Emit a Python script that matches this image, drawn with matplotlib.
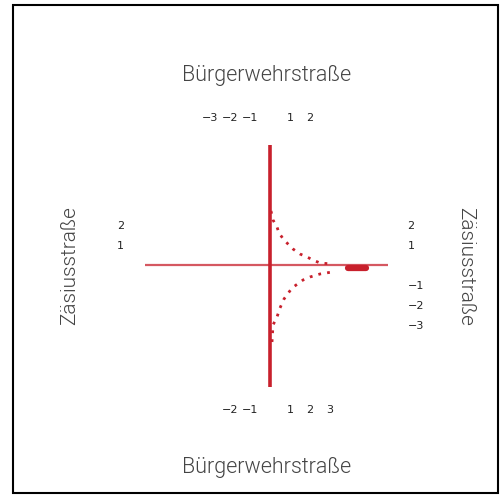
import matplotlib.pyplot as plt
from matplotlib.patches import Rectangle

# data (units: one tick step)
upper_x = [0.05, 0.15, 0.35, 0.45, 0.7, 1.15, 1.5, 1.85, 2.15, 2.5, 3.1]
upper_y = [2.7, 2.25, 1.9, 1.6, 1.25, 0.8, 0.55, 0.4, 0.25, 0.1, 0.05]
lower_x = [0.1, 0.15, 0.35, 0.5, 0.7, 1.1, 1.65, 2.0, 2.5, 3.1]
lower_y = [-3.85, -3.0, -2.6, -2.15, -1.7, -1.15, -0.75, -0.6, -0.45, -0.35]
tail_x = [3.9, 4.8]
tail_y = [-0.15, -0.15]

top_ticks = [-3, -2, -1, 1, 2]
top_labels = ["−3", "−2", "−1", "1", "2"]
bottom_ticks = [-2, -1, 1, 2, 3]
bottom_labels = ["−2", "−1", "1", "2", "3"]
left_ticks = [2, 1]
left_labels = ["2", "1"]
right_ticks = [2, 1, -1, -2, -3]
right_labels = ["2", "1", "−1", "−2", "−3"]

x_title = "Bürgerwehrstraße"
y_title = "Zäsiusstraße"

red = "#c8202c"
text_col = "#444444"
x_font = dict(fontsize=15.5, color=text_col, family="Roboto", fontweight=300)
y_font = dict(fontsize=15, color=text_col, family="Roboto", fontweight=300)

fig = plt.figure(figsize=(5.04, 4.98), dpi=100)
ax = fig.add_axes([145 / 504, 111 / 498, 243 / 504, 242 / 498])
ax.set_xlim(-6.25, 5.9)
ax.set_ylim(-6.1, 6.0)

ax.axhline(0, color=red, lw=1.6, alpha=0.75)
ax.axvline(0, color=red, lw=2.6)
ax.plot(upper_x, upper_y, color=red, lw=2.0, ls=(0, (1, 2.2)))
ax.plot(lower_x, lower_y, color=red, lw=2.0, ls=(0, (1, 2.2)))
ax.plot(tail_x, tail_y, color=red, lw=4.5, solid_capstyle="round")

for s in ax.spines.values():
    s.set_visible(False)

# bottom / left
ax.set_xticks(bottom_ticks, bottom_labels)
ax.set_yticks(left_ticks, left_labels)
ax.tick_params(axis="x", length=0, pad=13, labelsize=8, colors="#222222")
ax.tick_params(axis="y", length=0, pad=15, labelsize=8, colors="#222222")
ax.set_xlabel(x_title, labelpad=30, **x_font)
ax.set_ylabel(y_title, labelpad=27, **y_font)

# top / right
top = ax.secondary_xaxis("top")
top.set_xticks(top_ticks, top_labels)
top.tick_params(length=0, pad=16, labelsize=8, colors="#222222")
top.set_xlabel(x_title, labelpad=23, **x_font)
right = ax.secondary_yaxis("right")
right.set_yticks(right_ticks, right_labels)
right.tick_params(length=0, pad=14, labelsize=8, colors="#222222")
right.set_ylabel(y_title, rotation=270, labelpad=37, **y_font)
for a in (top, right):
    for s in a.spines.values():
        s.set_visible(False)

fig.patches.append(Rectangle((13 / 504, 5 / 498), 485 / 504, 488 / 498,
                             transform=fig.transFigure, fill=False,
                             edgecolor="black", lw=1.5))

fig.savefig("out.png", dpi=100)
